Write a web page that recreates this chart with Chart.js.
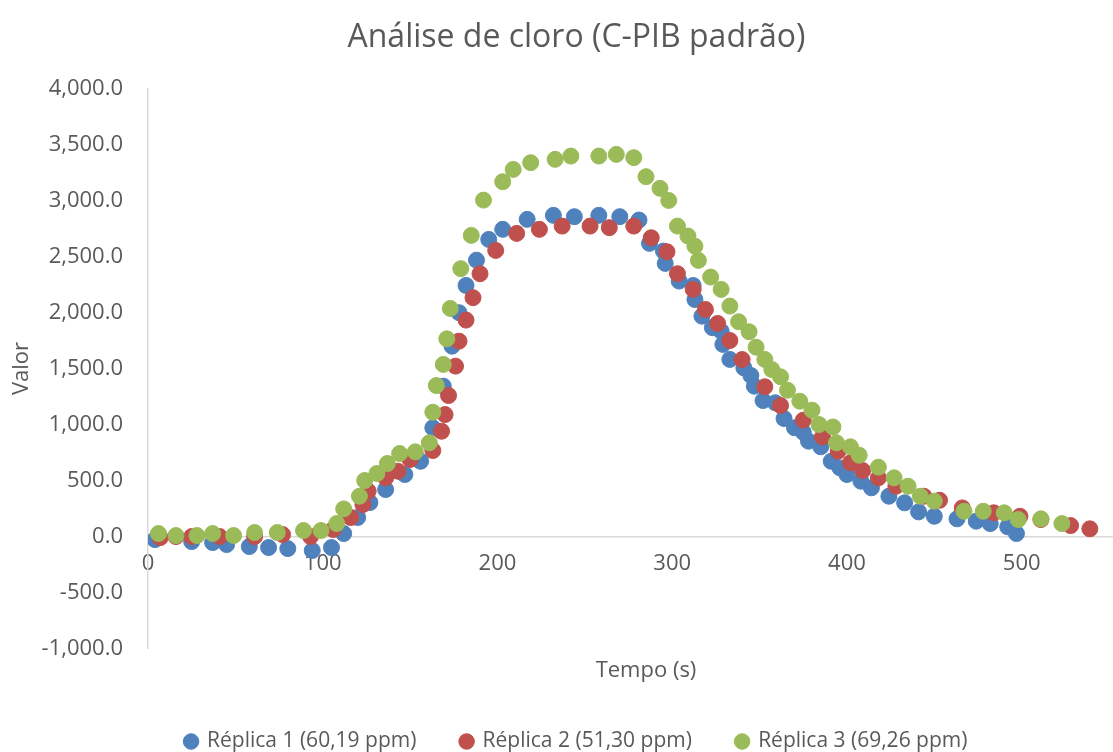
<!DOCTYPE html>
<html>
<head>
<meta charset="utf-8">
<script src="https://cdn.jsdelivr.net/npm/chart.js@4/dist/chart.umd.min.js"></script>
<style>
    html, body { margin: 0; padding: 0; background: #fff; overflow: hidden; }
</style>
</head>
<body>
<!-- o gráfico original foi recortado à direita e em baixo, por isso a tela é maior que a janela -->
<canvas id="grafico" width="1153" height="762"></canvas>
<script>
const titulo = "Análise de cloro (C-PIB padrão)";
const nomes = ["Réplica 1 (60,19 ppm)", "Réplica 2 (51,30 ppm)", "Réplica 3 (69,26 ppm)"];
const cores = ["#4F81BD", "#C0504D", "#9BBB59"];
const yTicks = [-1000, -500, 0, 500, 1000, 1500, 2000, 2500, 3000, 3500, 4000];
const xTicks = [0, 100, 200, 300, 400, 500];

// Réplica 1
const tempo1 = [4, 25, 37, 45, 58, 69, 80, 94, 105, 112, 120, 127, 136, 147, 156, 163, 169, 174, 178, 182,
    188, 195, 203, 217, 232, 244, 258, 270, 281, 287, 295, 296, 304, 312, 313, 317, 323, 328, 329, 333,
    341, 345, 347, 352, 359, 364, 370, 375, 378, 385, 391, 396, 400, 408, 414, 424, 433, 441, 450, 463,
    474, 482, 492, 497];
const valor1 = [-27, -45, -54, -71, -89, -98, -107, -125, -98, 27, 170, 304, 420, 554, 672, 971, 1342, 1699, 1998, 2241,
    2467, 2652, 2742, 2831, 2867, 2855, 2867, 2855, 2825, 2617, 2548, 2438, 2280, 2241, 2116, 1967, 1864, 1833, 1715, 1581,
    1506, 1438, 1342, 1214, 1194, 1054, 971, 931, 851, 801, 672, 613, 554, 494, 435, 360, 301, 220, 181, 158,
    137, 116, 87, 27];

// Réplica 2
const tempo2 = [7, 16, 25, 41, 61, 77, 93, 106, 116, 123, 126, 136, 143, 150, 163, 168, 170, 172, 176, 178,
    182, 186, 190, 199, 211, 224, 237, 253, 264, 278, 288, 297, 303, 312, 319, 326, 333, 340, 353, 362,
    375, 386, 395, 402, 409, 418, 428, 444, 453, 466, 484, 499, 511, 528, 539];
const valor2 = [-9, 0, 0, 0, 0, 18, 0, 63, 170, 286, 405, 524, 583, 688, 768, 940, 1089, 1259, 1521, 1744,
    1932, 2132, 2346, 2554, 2706, 2742, 2771, 2771, 2757, 2771, 2667, 2542, 2346, 2206, 2027, 1902, 1750, 1580, 1337, 1170,
    1039, 890, 762, 658, 589, 524, 449, 360, 324, 256, 212, 181, 152, 98, 69];

// Réplica 3
const tempo3 = [6, 16, 28, 37, 49, 61, 74, 89, 99, 108, 112, 121, 124, 131, 137, 144, 153, 161, 163, 165,
    169, 171, 173, 179, 185, 192, 203, 209, 219, 233, 242, 258, 268, 278, 285, 293, 298, 303, 309, 313, 315,
    322, 328, 333, 338, 344, 348, 353, 357, 362, 366, 373, 380, 384, 392, 394, 402, 407, 418, 427, 435,
    442, 450, 467, 478, 490, 498, 511, 523];
const valor3 = [27, 9, 9, 27, 9, 36, 36, 54, 54, 116, 247, 360, 500, 563, 652, 741, 756, 837, 1110, 1348,
    1536, 1765, 2036, 2391, 2688, 3003, 3167, 3277, 3337, 3367, 3396, 3396, 3411, 3382, 3212, 3108, 3000, 2771, 2682, 2592, 2465,
    2316, 2206, 2057, 1917, 1828, 1690, 1581, 1491, 1426, 1306, 1208, 1128, 1000, 978, 837, 801, 726, 619, 524, 449,
    360, 316, 226, 226, 212, 152, 158, 116];

const fonte = "'Open Sans', sans-serif";
const cinza = "#595959";
const eixo = "#D9D9D9";

function pontos(xs, ys) {
    return xs.map((x, i) => ({ x: x, y: ys[i] }));
}

function serie(i, xs, ys) {
    return {
        label: nomes[i],
        data: pontos(xs, ys),
        backgroundColor: cores[i],
        borderColor: cores[i],
        borderWidth: 1,
        pointRadius: 8,
        pointHoverRadius: 8,
        xAxisID: "x",
        yAxisID: "y",
        order: 3 - i   // réplica 3 por cima, como no Excel
    };
}

const chart = new Chart(document.getElementById("grafico"), {
    type: "scatter",
    data: {
        datasets: [
            serie(0, tempo1, valor1),
            serie(1, tempo2, valor2),
            serie(2, tempo3, valor3)
        ]
    },
    options: {
        responsive: false,
        animation: false,
        devicePixelRatio: 1,
        plugins: {
            tooltip: { enabled: false },
            title: {
                display: true,
                text: titulo,
                color: cinza,
                font: { family: fonte, size: 32, weight: "normal" },
                padding: { top: 19, bottom: 31 }
            },
            legend: {
                position: "bottom",
                labels: {
                    color: cinza,
                    font: { family: fonte, size: 21 },
                    usePointStyle: true,
                    pointStyle: "circle",
                    boxWidth: 11,
                    boxHeight: 11,
                    padding: 12,
                    sort: (a, b) => a.datasetIndex - b.datasetIndex,
                    generateLabels: (c) => {
                        const itens = Chart.defaults.plugins.legend.labels.generateLabels(c);
                        itens.forEach(it => {
                            if (it.datasetIndex < 2) it.text = it.text + "      ";
                        });
                        return itens;
                    }
                }
            }
        },
        scales: {
            x: {
                type: "linear",
                position: { y: 0 },
                min: 0,
                max: 570,
                afterBuildTicks: (s) => { s.ticks = xTicks.map(v => ({ value: v })); },
                grid: { display: false, drawTicks: false },
                border: { display: true, color: eixo, width: 1.5 },
                ticks: { color: cinza, font: { family: fonte, size: 22 }, padding: 14, maxRotation: 0 }
            },
            y: {
                type: "linear",
                min: -1000,
                max: 4000,
                afterBuildTicks: (s) => { s.ticks = yTicks.map(v => ({ value: v })); },
                afterFit: (s) => { s.width = 148; },
                grid: { display: false, drawTicks: false },
                border: { display: true, color: eixo, width: 1.5 },
                ticks: {
                    color: cinza,
                    font: { family: fonte, size: 22 },
                    padding: 25,
                    callback: (v) => v.toLocaleString("en-US", { minimumFractionDigits: 1, maximumFractionDigits: 1 })
                },
                title: {
                    display: true,
                    text: "Valor",
                    color: cinza,
                    font: { family: fonte, size: 22 },
                    padding: { top: 9, bottom: 0 }
                }
            },
            xt: {
                type: "linear",
                axis: "x",
                position: "bottom",
                grid: { display: false, drawTicks: false },
                border: { display: false },
                ticks: { display: false },
                title: {
                    display: true,
                    text: "Tempo (s)",
                    color: cinza,
                    font: { family: fonte, size: 22 },
                    padding: { top: 9, bottom: 35 }
                }
            }
        }
    }
});
</script>
</body>
</html>
